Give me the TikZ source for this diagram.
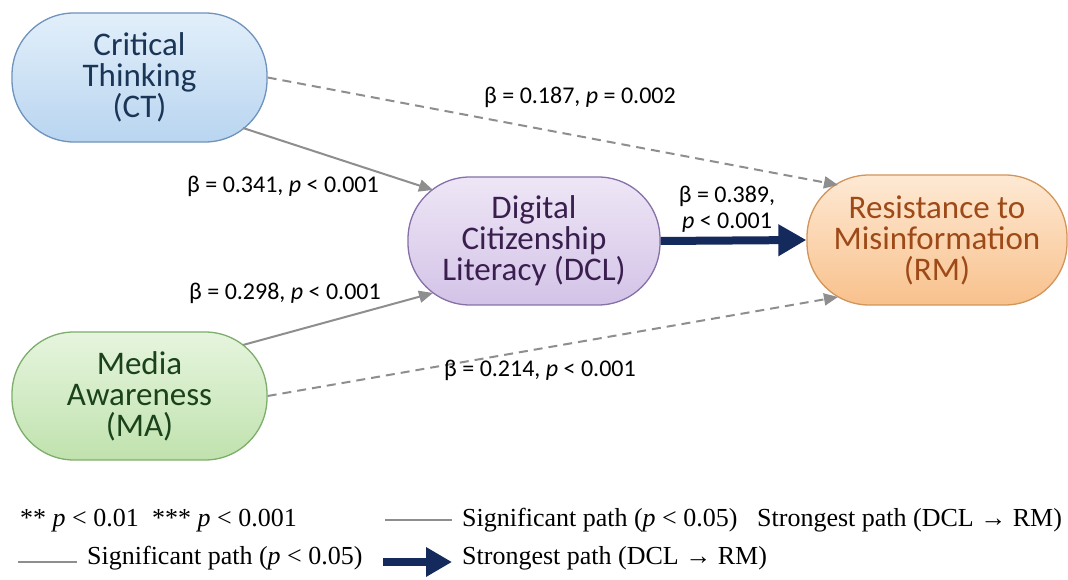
\documentclass[tikz,border=0pt]{standalone}
\usepackage{fontspec}
\setmainfont{Carlito}
\newfontfamily\legfont{Liberation Serif}
\usetikzlibrary{arrows.meta,calc}
\definecolor{ctfillA}{HTML}{E2EFFA}
\definecolor{ctfillB}{HTML}{B9D5F0}
\definecolor{ctdraw}{HTML}{6F93BC}
\definecolor{cttext}{HTML}{1A3556}
\definecolor{dclfillA}{HTML}{EEE6F6}
\definecolor{dclfillB}{HTML}{D3C3E7}
\definecolor{dcldraw}{HTML}{8670A8}
\definecolor{dcltext}{HTML}{3A1F4E}
\definecolor{rmfillA}{HTML}{FEE9D4}
\definecolor{rmfillB}{HTML}{F8C18C}
\definecolor{rmdraw}{HTML}{D2955A}
\definecolor{rmtext}{HTML}{9E4A18}
\definecolor{mafillA}{HTML}{E6F5DE}
\definecolor{mafillB}{HTML}{C0E2AE}
\definecolor{madraw}{HTML}{7DAE6B}
\definecolor{matext}{HTML}{1B431B}
\definecolor{pathgray}{HTML}{8E8E8E}
\definecolor{navy}{HTML}{14295C}
\tikzset{
  construct/.style={draw, line width=1.3pt, rounded corners=62pt, minimum width=255pt, minimum height=129pt,
    align=center, inner sep=0pt, font=\fontsize{33}{31}\selectfont},
  sigpath/.style={draw=pathgray, line width=2pt, -{Triangle[length=14pt,width=12pt]}},
  dashpath/.style={sigpath, dash pattern=on 9pt off 6pt},
  strongpath/.style={draw=navy, line width=8pt, -{Triangle[length=28pt,width=30pt]}},
  coef/.style={font=\fontsize{24}{26}\selectfont, inner sep=0pt, align=center},
  legtext/.style={font=\legfont\fontsize{26}{28}\selectfont, inner sep=0pt, anchor=base west},
}
\begin{document}
\begin{tikzpicture}[x=1pt,y=1pt]
\useasboundingbox[fill=white] (0,0) rectangle (1068,580);
\node[construct, draw=ctdraw, top color=ctfillA, bottom color=ctfillB, text=cttext] (ct) at (139.5,502.5) {Critical\\Thinking\\(CT)};
\node[construct, draw=dcldraw, top color=dclfillA, bottom color=dclfillB, text=dcltext, minimum width=252pt, minimum height=128pt] (dcl) at (534,339) {Digital\\Citizenship\\Literacy (DCL)};
\node[construct, draw=rmdraw, top color=rmfillA, bottom color=rmfillB, text=rmtext, minimum width=260pt, minimum height=130pt] (rm) at (937,340) {Resistance to\\Misinformation\\(RM)};
\node[construct, draw=madraw, top color=mafillA, bottom color=mafillB, text=matext, minimum height=128pt] (ma) at (139.5,184) {Media\\Awareness\\(MA)};
% connectors
\draw[sigpath] ($(ct.center)+(103.5,-50.5)$) -- ($(dcl.center)+(-101,51)$);
\draw[dashpath] (ct.east) -- ($(rm.center)+(-99,55)$);
\draw[sigpath] ($(ma.center)+(103.5,51)$) -- ($(dcl.center)+(-101,-52)$);
\draw[dashpath] (ma.east) -- ($(rm.center)+(-99,-57)$);
\draw[strongpath] (dcl.east) -- (rm.west);
% coefficients
\node[coef] (l1) at (580,483) {β = 0.187, \textit{p} = 0.002};
\node[coef] (l2) at (283,394) {β = 0.341, \textit{p} < 0.001};
\node[coef] (l3) at (727,371) {β = 0.389,\\\textit{p} < 0.001};
\node[coef] (l4) at (285,287) {β = 0.298, \textit{p} < 0.001};
\node[coef] (l5) at (540,210) {β = 0.214, \textit{p} < 0.001};
% legend
\node[legtext] (g1) at (20,53) {** \textit{p} < 0.01};
\node[legtext] (g2) at (152,53) {*** \textit{p} < 0.001};
\coordinate (s1a) at (385,60);
\coordinate (s1b) at (452,60);
\draw[draw=pathgray, line width=2pt] (s1a) -- (s1b);
\node[legtext] (g3) at (462,53) {Significant path (\textit{p} < 0.05)};
\node[legtext] (g4) at (757,53) {Strongest path (DCL → RM)};
\coordinate (s2a) at (18,18);
\coordinate (s2b) at (77,18);
\draw[draw=pathgray, line width=2pt] (s2a) -- (s2b);
\node[legtext] (g5) at (87,15) {Significant path (\textit{p} < 0.05)};
\coordinate (a2a) at (383,18);
\coordinate (a2b) at (452,18);
\draw[draw=navy, line width=8pt, -{Triangle[length=26pt,width=28pt]}] (a2a) -- (a2b);
\node[legtext] (g6) at (462,15) {Strongest path (DCL → RM)};
\end{tikzpicture}
\end{document}
